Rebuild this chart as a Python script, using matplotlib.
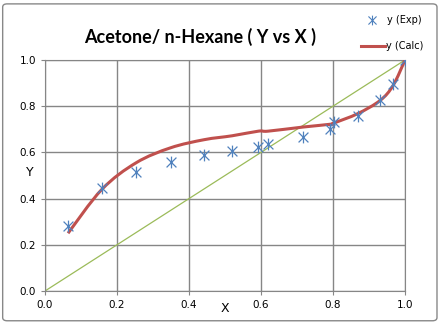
import numpy as np
import matplotlib
matplotlib.use('Agg')
import matplotlib.pyplot as plt
from matplotlib.path import Path
from matplotlib.patches import PathPatch, FancyBboxPatch
from matplotlib.lines import Line2D

# Acetone / n-Hexane VLE data
x_exp = [0.064, 0.158, 0.253, 0.349, 0.442, 0.520, 0.593, 0.620, 0.718, 0.793, 0.804, 0.869, 0.931, 0.967, 1.0]
y_exp = [0.28, 0.445, 0.513, 0.558, 0.588, 0.606, 0.625, 0.635, 0.665, 0.701, 0.730, 0.758, 0.825, 0.896, 1.0]
y_calc = [0.25, 0.44, 0.555, 0.62, 0.655, 0.672, 0.692, 0.692, 0.71, 0.722, 0.728, 0.768, 0.825, 0.89, 1.0]
diag = [0.0, 1.0]
ticks = [0.0, 0.2, 0.4, 0.6, 0.8, 1.0]


def smooth_path(xs, ys, t=1/6):
    # Excel-like smoothed line: Catmull-Rom as cubic bezier segments
    pts = np.column_stack([xs, ys])
    verts = [pts[0]]
    codes = [Path.MOVETO]
    n = len(pts)
    for i in range(n - 1):
        p0 = pts[i - 1] if i > 0 else pts[i]
        p1 = pts[i]
        p2 = pts[i + 1]
        p3 = pts[i + 2] if i + 2 < n else pts[i + 1]
        c1 = p1 + (p2 - p0) * t
        c2 = p2 - (p3 - p1) * t
        verts += [c1, c2, p2]
        codes += [Path.CURVE4] * 3
    return Path(verts, codes)


# asterisk marker like Excel's: X plus a vertical bar
star = Path([(-1, -1), (1, 1), (-1, 1), (1, -1), (0, -1.2), (0, 1.2)],
            [Path.MOVETO, Path.LINETO, Path.MOVETO, Path.LINETO, Path.MOVETO, Path.LINETO])

blue = '#4F81BD'
red = '#C0504D'
green = '#9BBB59'
grey = '#868686'
W, H = 445, 324

fig = plt.figure(figsize=(4.45, 3.24), dpi=100)
fig.patches.append(FancyBboxPatch((0.006, 0.01), 0.976, 0.978, boxstyle='round,pad=0,rounding_size=0.01',
                                  transform=fig.transFigure, fill=False, edgecolor='#888888', lw=1))
ax = fig.add_axes([45 / W, 33 / H, 360 / W, 231 / H])

ax.plot(diag, diag, color=green, lw=0.9, zorder=2)
ax.add_patch(PathPatch(smooth_path(x_exp, y_calc), fill=False, edgecolor=red, lw=2.2, zorder=3))
ax.plot(x_exp, y_exp, linestyle='none', marker=star, markersize=8.5, markeredgewidth=0.9,
        color=blue, zorder=4)

ax.set_xlim(0, 1)
ax.set_ylim(0, 1)
ax.set_xticks(ticks)
ax.set_yticks(ticks)
ax.set_xticklabels(['%.1f' % v for v in ticks])
ax.set_yticklabels(['%.1f' % v for v in ticks])
ax.grid(True, color=grey, lw=1)
ax.set_axisbelow(True)
for s in ax.spines.values():
    s.set_color(grey)
ax.tick_params(colors=grey, labelcolor='black', labelsize=7.5, length=3, direction='out')

fig.text(225 / W, 1 - 308 / H, 'X', ha='center', va='center', fontsize=9)
fig.text(30 / W, 1 - 173 / H, 'Y', ha='center', va='center', fontsize=9)

fig.text(0.45, 0.885, 'Acetone/ n-Hexane ( Y vs X )', ha='center', va='center',
         fontsize=13, fontweight='bold', family='Lato')

# legend drawn by hand to match placement
fig.add_artist(Line2D([372 / W], [1 - 20 / H], linestyle='none', marker=star, markersize=7,
                      markeredgewidth=0.8, color=blue, transform=fig.transFigure))
fig.text(387 / W, 1 - 20 / H, 'y (Exp)', ha='left', va='center', fontsize=7)
fig.add_artist(Line2D([361 / W, 385 / W], [1 - 46 / H, 1 - 46 / H], color=red, lw=2.2,
                      transform=fig.transFigure))
fig.text(386 / W, 1 - 46 / H, 'y (Calc)', ha='left', va='center', fontsize=7)

fig.savefig('out.png', dpi=100)
